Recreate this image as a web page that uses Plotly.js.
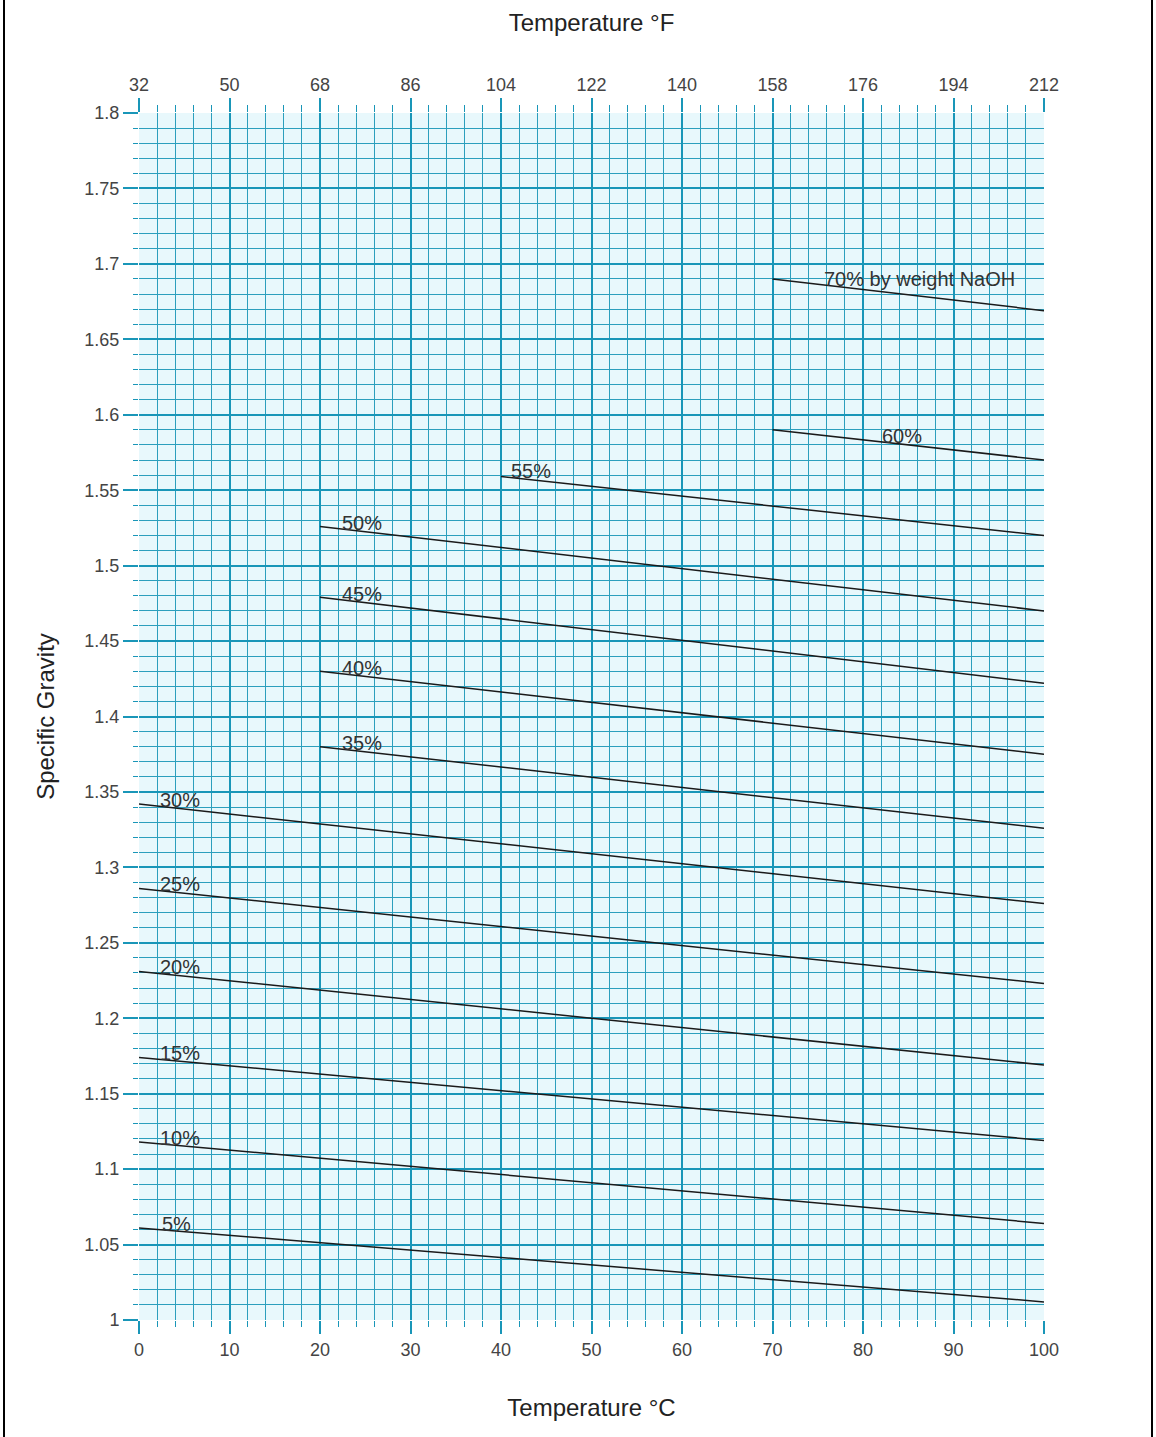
<!DOCTYPE html>
<html>
<head>
<meta charset="utf-8">
<script src="https://cdn.plot.ly/plotly-3.0.1.min.js"></script>
<style>
  html, body { margin: 0; padding: 0; background: #ffffff; }
  #chart { width: 1156px; height: 1437px; }
</style>
</head>
<body>
<div id="chart"></div>
<script>
// Concentration labels (% by weight NaOH)
const labels = ["5%", "10%", "15%", "20%", "25%", "30%", "35%", "40%", "45%", "50%", "55%", "60%", "70% by weight NaOH"];
// Start / end temperature (°C) of each line
const tStart = [0, 0, 0, 0, 0, 0, 20, 20, 20, 20, 40, 70, 70];
const tEnd   = [100, 100, 100, 100, 100, 100, 100, 100, 100, 100, 100, 100, 100];
// Specific gravity at start / end of each line
const sgStart = [1.061, 1.118, 1.174, 1.231, 1.286, 1.342, 1.380, 1.430, 1.479, 1.526, 1.559, 1.590, 1.690];
const sgEnd   = [1.012, 1.064, 1.119, 1.169, 1.223, 1.276, 1.326, 1.375, 1.422, 1.470, 1.520, 1.570, 1.669];
// Fahrenheit tick labels on top axis
const fTicks = [32, 50, 68, 86, 104, 122, 140, 158, 176, 194, 212];

// Label anchor temperatures (°C) for text placement
const labelT = [2.3, 2.1, 2.1, 2.1, 2.1, 2.1, 22.2, 22.2, 22.2, 22.2, 40.9, 81.9, 75.5];

const lineColor = '#1a1a1a';
const traces = labels.map((lab, i) => ({
  type: 'scatter', mode: 'lines',
  x: [tStart[i], tEnd[i]],
  y: [sgStart[i], sgEnd[i]],
  line: { color: lineColor, width: 1.5 },
  name: lab, hoverinfo: 'skip', showlegend: false
}));
// dummy trace for top axis
traces.push({ type: 'scatter', mode: 'lines', x: [32, 212], y: [1, 1], xaxis: 'x2', yaxis: 'y',
  line: { width: 0, color: 'rgba(0,0,0,0)' }, showlegend: false, hoverinfo: 'skip' });

const fam = 'Liberation Sans, Arial, Helvetica, sans-serif';
const annotations = labels.map((lab, i) => {
  const t = labelT[i];
  const y = sgStart[i] + (sgEnd[i] - sgStart[i]) * (t - tStart[i]) / (tEnd[i] - tStart[i]);
  return {
    x: t, y: y, xref: 'x', yref: 'y', text: lab, showarrow: false,
    xanchor: 'left', yanchor: 'middle', yshift: 6,
    font: { family: fam, size: 20, color: '#333333' }
  };
});

const gridMajor = '#1996b8';
const gridMinor = '#2c9fbd';
const tickFont = { family: fam, size: 18, color: '#444444' };
const titleFont = { family: fam, size: 24, color: '#222222' };

const frameX0 = (4 - 139) / 905, frameX1 = (1152 - 139) / 905;
const shapes = [
  { type: 'line', xref: 'paper', yref: 'paper', x0: frameX0, x1: frameX0, y0: -0.0975, y1: 1.0936, line: { color: '#000', width: 2 } },
  { type: 'line', xref: 'paper', yref: 'paper', x0: frameX1, x1: frameX1, y0: -0.0975, y1: 1.0936, line: { color: '#000', width: 2 } }
];

const layout = {
  width: 1156, height: 1437,
  margin: { l: 139, r: 112, t: 113, b: 117 },
  paper_bgcolor: '#ffffff',
  plot_bgcolor: '#e8f8fc',
  showlegend: false,
  xaxis: {
    range: [0, 100], dtick: 10, tick0: 0,
    showgrid: true, gridcolor: gridMajor, gridwidth: 2,
    zeroline: false, showline: false,
    ticks: 'outside', ticklen: 13, tickcolor: gridMajor, tickwidth: 2,
    minor: { dtick: 2, showgrid: true, gridcolor: gridMinor, gridwidth: 1, ticks: 'outside', ticklen: 6, tickcolor: gridMajor, tickwidth: 1 },
    tickfont: tickFont,
    title: { text: 'Temperature °C', font: titleFont, standoff: 40 },
    automargin: false, fixedrange: true
  },
  xaxis2: {
    overlaying: 'x', side: 'top', anchor: 'y',
    range: [32, 212], tickvals: fTicks,
    showgrid: false, zeroline: false, showline: false,
    ticks: 'outside', ticklen: 14, tickcolor: gridMajor, tickwidth: 2,
    minor: { dtick: 3.6, tick0: 32, ticks: 'outside', ticklen: 7, tickcolor: gridMajor, tickwidth: 1, showgrid: false },
    tickfont: tickFont,
    title: { text: 'Temperature °F', font: titleFont, standoff: 36 },
    automargin: false, fixedrange: true
  },
  yaxis: {
    range: [1, 1.8], dtick: 0.05, tick0: 1,
    showgrid: true, gridcolor: gridMajor, gridwidth: 2,
    zeroline: false, showline: false,
    ticks: 'outside', ticklen: 15, tickcolor: gridMajor, tickwidth: 2,
    minor: { dtick: 0.01, showgrid: true, gridcolor: gridMinor, gridwidth: 1, ticks: 'outside', ticklen: 5, tickcolor: gridMajor, tickwidth: 1 },
    tickfont: tickFont,
    title: { text: 'Specific Gravity', font: titleFont, standoff: 22 },
    automargin: false, fixedrange: true
  },
  annotations: annotations,
  shapes: shapes
};

Plotly.newPlot('chart', traces, layout, { displayModeBar: false, staticPlot: true });
</script>
</body>
</html>
